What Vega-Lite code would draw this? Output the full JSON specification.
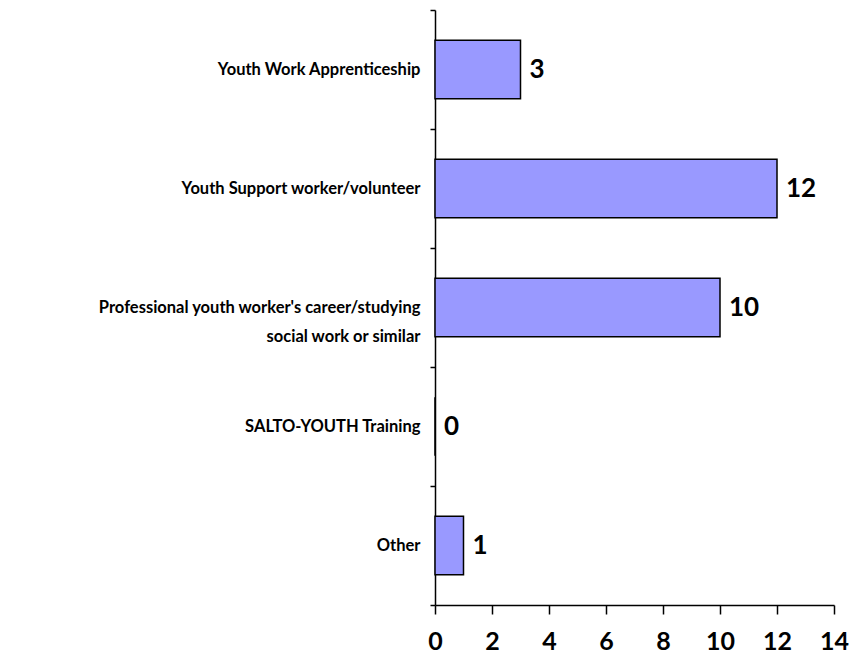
{
  "$schema": "https://vega.github.io/schema/vega-lite/v6.json",
  "width": 399,
  "height": 595,
  "autosize": {"type": "none"},
  "padding": {"left": 435, "top": 10, "right": 18, "bottom": 64},
  "background": "white",
  "config": {"view": {"stroke": null}, "font": "Lato"},
  "data": {
    "values": [
      {"category": "Youth Work Apprenticeship", "count": 3},
      {"category": "Youth Support worker/volunteer", "count": 12},
      {"category": "Professional youth worker's career/studying social work or similar", "count": 10},
      {"category": "SALTO-YOUTH Training", "count": 0},
      {"category": "Other", "count": 1}
    ]
  },
  "encoding": {
    "y": {
      "field": "category",
      "type": "nominal",
      "sort": null,
      "scale": {"paddingInner": 0, "paddingOuter": 0},
      "axis": {
        "title": null,
        "domainColor": "black",
        "domainWidth": 1.5,
        "tickColor": "black",
        "tickWidth": 1.5,
        "tickSize": 5,
        "tickBand": "extent",
        "labelFont": "Lato",
        "labelFontWeight": "bold",
        "labelFontSize": 16.5,
        "labelColor": "black",
        "labelPadding": 10,
        "labelLimit": 500,
        "labelLineHeight": 29,
        "labelExpr": "datum.label == \"Professional youth worker's career/studying social work or similar\" ? [\"Professional youth worker's career/studying\", \"social work or similar\"] : datum.label"
      }
    },
    "x": {
      "field": "count",
      "type": "quantitative",
      "scale": {"domain": [0, 14], "nice": false},
      "axis": {
        "title": null,
        "values": [0, 2, 4, 6, 8, 10, 12, 14],
        "grid": false,
        "domainColor": "black",
        "domainWidth": 1.5,
        "tickColor": "black",
        "tickWidth": 1.5,
        "tickSize": 9,
        "labelFont": "Lato",
        "labelFontWeight": "bold",
        "labelFontSize": 25,
        "labelColor": "black",
        "labelPadding": 15,
        "labelFlush": false
      }
    }
  },
  "layer": [
    {
      "mark": {"type": "bar", "height": {"band": 0.49}, "fill": "#9999FF", "stroke": "black", "strokeWidth": 1.5}
    },
    {
      "mark": {"type": "text", "align": "left", "baseline": "middle", "dx": 9, "fontSize": 26, "fontWeight": "bold", "font": "Lato", "color": "black"},
      "encoding": {"text": {"field": "count", "type": "quantitative"}}
    }
  ]
}
